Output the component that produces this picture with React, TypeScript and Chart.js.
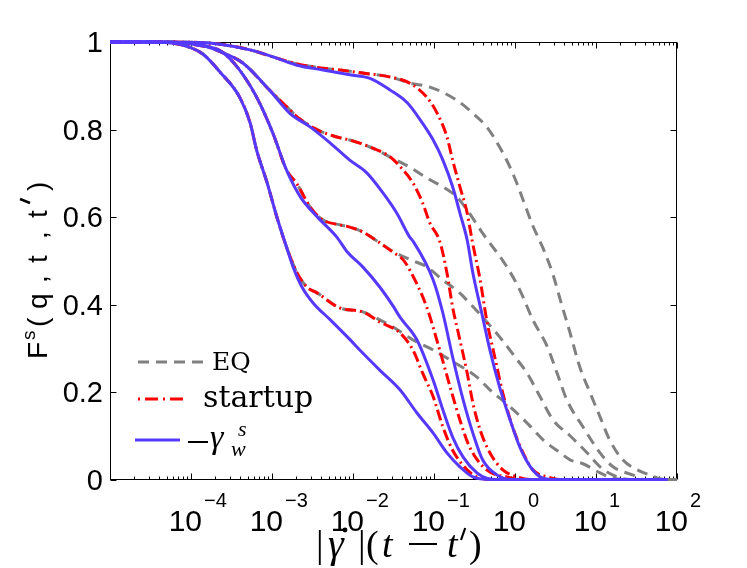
import React, { useEffect, useRef } from 'react';
import { Chart, registerables } from 'chart.js';

Chart.register(...registerables);

// Each curve is a list of [log10(|γ̇|(t−t′)), F^s] pairs
const blue1 = [
  [-5, 1], [-4.5, 1], [-4.26, 0.998], [-4.05, 0.99], [-3.85, 0.972], [-3.64, 0.931], [-3.4, 0.874],
  [-3.27, 0.815], [-3.19, 0.753], [-3.06, 0.678], [-2.94, 0.6], [-2.82, 0.531], [-2.74, 0.486],
  [-2.63, 0.44], [-2.49, 0.403], [-2.28, 0.365], [-2.07, 0.326], [-1.88, 0.289], [-1.67, 0.25],
  [-1.42, 0.205], [-1.21, 0.152], [-1.01, 0.106], [-0.84, 0.061], [-0.68, 0.029], [-0.52, 0.006],
  [-0.3, 0], [1.88, 0],
];
const blue2 = [
  [-5, 1], [-4.5, 1], [-4.1, 0.998], [-3.93, 0.993], [-3.64, 0.98], [-3.43, 0.943], [-3.19, 0.874],
  [-2.99, 0.792], [-2.82, 0.707], [-2.65, 0.646], [-2.44, 0.6], [-2.2, 0.554], [-2.07, 0.52],
  [-1.88, 0.486], [-1.67, 0.44], [-1.5, 0.395], [-1.42, 0.371], [-1.21, 0.319], [-1.01, 0.227],
  [-0.89, 0.159], [-0.77, 0.097], [-0.64, 0.051], [-0.47, 0.015], [-0.35, 0.003], [-0.2, 0], [1.88, 0],
];
const blue3 = [
  [-5, 1], [-4.5, 1], [-4, 0.997], [-3.85, 0.992], [-3.64, 0.978], [-3.36, 0.952], [-3.03, 0.89],
  [-2.78, 0.837], [-2.53, 0.806], [-2.28, 0.769], [-2.04, 0.73], [-1.83, 0.701], [-1.63, 0.655],
  [-1.46, 0.609], [-1.3, 0.554], [-1.26, 0.545], [-1.01, 0.456], [-0.89, 0.38], [-0.77, 0.28],
  [-0.64, 0.182], [-0.52, 0.106], [-0.4, 0.045], [-0.22, 0.01], [-0.05, 0], [1.88, 0],
];
const blue4 = [
  [-5, 1], [-4.5, 1], [-3.9, 0.999], [-3.64, 0.995], [-3.27, 0.982], [-2.94, 0.963], [-2.69, 0.947],
  [-2.37, 0.936], [-2.04, 0.925], [-1.79, 0.917], [-1.54, 0.89], [-1.33, 0.861], [-1.17, 0.822],
  [-1.01, 0.776], [-0.89, 0.73], [-0.77, 0.669], [-0.68, 0.609], [-0.59, 0.547], [-0.52, 0.472],
  [-0.41, 0.38], [-0.31, 0.296], [-0.19, 0.211], [-0.06, 0.136], [0.06, 0.074], [0.19, 0.029],
  [0.31, 0.006], [0.45, 0], [1.88, 0],
];

const startup1 = [
  [-5, 1], [-4.5, 1], [-4.26, 0.998], [-4.05, 0.99], [-3.85, 0.972], [-3.64, 0.931], [-3.4, 0.874],
  [-3.27, 0.815], [-3.19, 0.753], [-3.06, 0.678], [-2.94, 0.6], [-2.82, 0.531], [-2.69, 0.472],
  [-2.57, 0.44], [-2.44, 0.426], [-2.16, 0.392], [-1.88, 0.383], [-1.67, 0.36], [-1.42, 0.335],
  [-1.26, 0.296], [-1.14, 0.243], [-1.01, 0.189], [-0.89, 0.12], [-0.77, 0.067], [-0.59, 0.022],
  [-0.47, 0.006], [-0.3, 0], [1, 0],
];
const startup2 = [
  [-5, 1], [-4.5, 1], [-4.1, 0.998], [-3.93, 0.993], [-3.64, 0.98], [-3.43, 0.943], [-3.19, 0.874],
  [-2.99, 0.792], [-2.82, 0.707], [-2.69, 0.675], [-2.53, 0.623], [-2.37, 0.593], [-2.16, 0.582],
  [-2.04, 0.577], [-1.88, 0.566], [-1.67, 0.541], [-1.51, 0.52], [-1.38, 0.502], [-1.3, 0.479],
  [-1.09, 0.394], [-0.93, 0.296], [-0.8, 0.211], [-0.68, 0.136], [-0.56, 0.074], [-0.35, 0.022],
  [-0.1, 0.006], [0.1, 0], [1, 0],
];
const startup3 = [
  [-5, 1], [-4.5, 1], [-4, 0.997], [-3.85, 0.992], [-3.64, 0.978], [-3.36, 0.952], [-3.03, 0.89],
  [-2.78, 0.845], [-2.69, 0.829], [-2.44, 0.799], [-2.2, 0.783], [-2.04, 0.776], [-1.79, 0.76],
  [-1.54, 0.737], [-1.38, 0.707], [-1.26, 0.678], [-1.14, 0.632], [-1.05, 0.586], [-0.93, 0.545],
  [-0.84, 0.472], [-0.77, 0.394], [-0.68, 0.319], [-0.59, 0.243], [-0.52, 0.175], [-0.43, 0.113],
  [-0.31, 0.061], [-0.15, 0.022], [0.03, 0.006], [0.2, 0], [1, 0],
];
const startup4 = [
  [-5, 1], [-4.5, 1], [-3.9, 0.999], [-3.64, 0.995], [-3.27, 0.982], [-2.94, 0.963], [-2.69, 0.95],
  [-2.37, 0.94], [-2.16, 0.936], [-1.88, 0.929], [-1.54, 0.92], [-1.3, 0.906], [-1.09, 0.874],
  [-0.96, 0.837], [-0.84, 0.783], [-0.77, 0.73], [-0.68, 0.669], [-0.59, 0.609], [-0.53, 0.547],
  [-0.43, 0.456], [-0.35, 0.365], [-0.25, 0.28], [-0.15, 0.197], [-0.03, 0.12], [0.1, 0.061],
  [0.22, 0.022], [0.4, 0.006], [0.55, 0], [1.2, 0],
];

const eq1 = [
  [-5, 1], [-4.5, 1], [-4.26, 0.998], [-4.05, 0.99], [-3.85, 0.972], [-3.64, 0.931], [-3.4, 0.874],
  [-3.27, 0.815], [-3.19, 0.753], [-3.06, 0.678], [-2.94, 0.6], [-2.82, 0.531], [-2.69, 0.472],
  [-2.57, 0.44], [-2.44, 0.426], [-2.16, 0.392], [-1.88, 0.383], [-1.67, 0.365], [-1.51, 0.349],
  [-1.26, 0.319], [-1.01, 0.296], [-0.8, 0.273], [-0.47, 0.234], [-0.31, 0.205], [-0.06, 0.166],
  [0.15, 0.129], [0.35, 0.09], [0.56, 0.061], [0.68, 0.045], [0.84, 0.036], [1.05, 0.015],
  [1.21, 0.003], [1.42, 0], [2, 0],
];
const eq2 = [
  [-5, 1], [-4.5, 1], [-4.1, 0.998], [-3.93, 0.993], [-3.64, 0.98], [-3.43, 0.943], [-3.19, 0.874],
  [-2.99, 0.792], [-2.82, 0.707], [-2.69, 0.675], [-2.53, 0.623], [-2.37, 0.593], [-2.16, 0.582],
  [-2.04, 0.577], [-1.88, 0.566], [-1.67, 0.541], [-1.51, 0.522], [-1.3, 0.503], [-1.09, 0.486],
  [-0.89, 0.456], [-0.68, 0.426], [-0.56, 0.403], [-0.4, 0.371], [-0.19, 0.326], [0.03, 0.273],
  [0.15, 0.243], [0.31, 0.189], [0.47, 0.136], [0.68, 0.1], [0.89, 0.061], [1.05, 0.029],
  [1.21, 0.01], [1.42, 0], [2, 0],
];
const eq3 = [
  [-5, 1], [-4.5, 1], [-4, 0.997], [-3.85, 0.992], [-3.64, 0.978], [-3.36, 0.952], [-3.03, 0.89],
  [-2.78, 0.845], [-2.69, 0.829], [-2.44, 0.799], [-2.2, 0.783], [-2.04, 0.776], [-1.79, 0.76],
  [-1.54, 0.737], [-1.3, 0.714], [-1.05, 0.685], [-0.89, 0.669], [-0.72, 0.646], [-0.59, 0.616],
  [-0.4, 0.563], [-0.1, 0.486], [0.06, 0.433], [0.22, 0.365], [0.4, 0.303],
  [0.52, 0.243], [0.64, 0.182], [0.84, 0.12], [1.05, 0.061], [1.21, 0.029], [1.46, 0.01], [1.6, 0], [2, 0],
];
const eq4 = [
  [-5, 1], [-4.5, 1], [-3.9, 0.999], [-3.64, 0.995], [-3.27, 0.982], [-2.94, 0.963], [-2.69, 0.95],
  [-2.37, 0.94], [-2.16, 0.936], [-1.88, 0.929], [-1.54, 0.92], [-1.3, 0.906], [-1.05, 0.897],
  [-0.72, 0.867], [-0.52, 0.837], [-0.35, 0.806], [-0.19, 0.76], [-0.03, 0.701], [0.1, 0.639],
  [0.22, 0.58], [0.35, 0.527], [0.47, 0.468], [0.56, 0.41], [0.68, 0.335], [0.8, 0.257],
  [0.93, 0.197], [1.05, 0.143], [1.17, 0.09], [1.33, 0.045], [1.51, 0.022], [1.67, 0.01], [1.85, 0], [2, 0],
];

const yTicks = [0, 0.2, 0.4, 0.6, 0.8, 1];
const yTickLabels = ['0', '0.2', '0.4', '0.6', '0.8', '1'];
const xDecades = [-5, -4, -3, -2, -1, 0, 1];
const xTickExponents = [-4, -3, -2, -1, 0, 1, 2];

const GRAY = '#808080';
const RED = '#ff0000';
const BLUE = '#5539ff';
const EQ_DASH = [11, 7];
const STARTUP_DASH = [11, 4, 2, 4];

const SANS = '"Liberation Sans", Arial, sans-serif';
const SERIF = '"Liberation Serif", "Times New Roman", serif';
const DSERIF = '"DejaVu Serif", serif';

const toPoints = (pairs: number[][]) => pairs.map(([lx, y]) => ({ x: Math.pow(10, lx), y }));

const line = (pairs: number[][], color: string, dash: number[], order: number) => ({
  data: toPoints(pairs),
  borderColor: color,
  borderWidth: 3,
  borderDash: dash,
  pointRadius: 0,
  cubicInterpolationMode: 'monotone' as const,
  fill: false,
  clip: false as const,
  order,
});

// small slanted stroke used for primes
const prime = (ctx: CanvasRenderingContext2D, x: number, y: number, len: number) => {
  ctx.save();
  ctx.lineWidth = 2.2;
  ctx.strokeStyle = '#000';
  ctx.setLineDash([]);
  ctx.beginPath();
  ctx.moveTo(x + len * 0.35, y);
  ctx.lineTo(x, y + len);
  ctx.stroke();
  ctx.restore();
};

const frame = {
  id: 'frame',
  beforeDatasetsDraw(chart: Chart) {
    const { ctx, chartArea: a } = chart;
    const xs = chart.scales.x;
    const ys = chart.scales.y;
    ctx.save();
    ctx.strokeStyle = '#000';
    ctx.lineWidth = 1;
    const L = Math.round(a.left) + 0.5;
    const R = Math.round(a.right) - 0.5;
    const T = Math.round(a.top) + 0.5;
    const B = Math.round(a.bottom) - 0.5;
    ctx.strokeRect(L, T, R - L, B - T);
    ctx.beginPath();
    const xTick = (v: number, len: number) => {
      const p = Math.round(xs.getPixelForValue(v)) + 0.5;
      ctx.moveTo(p, B);
      ctx.lineTo(p, B - len);
      ctx.moveTo(p, T);
      ctx.lineTo(p, T + len);
    };
    xDecades.forEach((e) => {
      for (let m = 1; m <= 9; m++) xTick(m * Math.pow(10, e), m === 1 ? 6 : 3);
    });
    xTick(100, 6);
    yTicks.forEach((v) => {
      const p = Math.round(ys.getPixelForValue(v)) + 0.5;
      ctx.moveTo(L, p);
      ctx.lineTo(L + 6, p);
      ctx.moveTo(R, p);
      ctx.lineTo(R - 6, p);
    });
    ctx.stroke();
    ctx.restore();
  },
  afterDraw(chart: Chart) {
    const { ctx } = chart;
    const xs = chart.scales.x;
    const ys = chart.scales.y;
    ctx.save();
    ctx.fillStyle = '#000';
    ctx.textBaseline = 'alphabetic';

    // y tick labels
    ctx.font = `29px ${SANS}`;
    ctx.textAlign = 'right';
    yTicks.forEach((v, i) => {
      ctx.fillText(yTickLabels[i], 103, ys.getPixelForValue(v) + 10);
    });

    // x tick labels 10^n
    xTickExponents.forEach((e) => {
      const p = xs.getPixelForValue(Math.pow(10, e));
      ctx.font = `30px ${SANS}`;
      ctx.textAlign = 'right';
      ctx.fillText('10', p + 11, 531);
      ctx.font = `20px ${SANS}`;
      ctx.textAlign = 'left';
      ctx.fillText(e < 0 ? '\u2212' + Math.abs(e) : String(e), p + 13, 507);
    });

    // y axis title F^s(q,t,t′)
    ctx.save();
    ctx.translate(47, 359);
    ctx.rotate(-Math.PI / 2);
    ctx.textAlign = 'left';
    ctx.font = `28px ${SANS}`;
    ctx.fillText('F', 0, 0);
    ctx.font = `19px ${SANS}`;
    ctx.fillText('s', 19, -12);
    ctx.font = `28px ${SANS}`;
    const yParts: [string, number][] = [
      ['(', 32], ['q', 50], [',', 76], ['t', 96], [',', 120], ['t', 141], [')', 168],
    ];
    yParts.forEach(([c, x]) => ctx.fillText(c, x, 0));
    ctx.lineWidth = 2.5;
    ctx.beginPath();
    ctx.moveTo(160, -27);
    ctx.lineTo(156, -17);
    ctx.stroke();
    ctx.restore();

    // x axis title |γ̇|(t − t′)
    ctx.textAlign = 'left';
    const base = 557;
    ctx.font = `38px ${SERIF}`;
    ctx.fillText('|', 316, base);
    ctx.font = `italic 40px ${SERIF}`;
    ctx.fillText('\u03b3', 328, base);
    ctx.beginPath();
    ctx.arc(345, 530, 2.4, 0, Math.PI * 2);
    ctx.fill();
    ctx.font = `38px ${SERIF}`;
    ctx.fillText('|', 358, base);
    ctx.fillText('(', 366, base);
    ctx.font = `italic 38px ${SERIF}`;
    ctx.fillText('t', 382, base);
    ctx.fillRect(409, 543, 28, 2);
    ctx.fillText('t', 447, base);
    prime(ctx, 461, 528, 12);
    ctx.font = `38px ${SERIF}`;
    ctx.fillText(')', 469, base);

    // legend
    ctx.lineWidth = 3;
    ctx.strokeStyle = GRAY;
    ctx.setLineDash(EQ_DASH);
    ctx.beginPath();
    ctx.moveTo(138, 362);
    ctx.lineTo(203, 362);
    ctx.stroke();
    ctx.strokeStyle = RED;
    ctx.setLineDash([2, 5, 13, 5]);
    ctx.beginPath();
    ctx.moveTo(138, 399);
    ctx.lineTo(184, 399);
    ctx.stroke();
    ctx.strokeStyle = BLUE;
    ctx.setLineDash([]);
    ctx.beginPath();
    ctx.moveTo(135, 440);
    ctx.lineTo(180, 440);
    ctx.stroke();

    ctx.font = `25px ${DSERIF}`;
    ctx.fillText('EQ', 212, 370);
    ctx.font = `30px ${DSERIF}`;
    ctx.fillText('startup', 203, 407);
    ctx.fillRect(188, 441, 20, 2);
    ctx.font = `italic 34px ${SERIF}`;
    ctx.fillText('\u03b3', 210, 448);
    ctx.font = `italic 22px ${SERIF}`;
    ctx.fillText('s', 238, 436);
    ctx.fillText('w', 231, 456);
    ctx.restore();
  },
};

export default function App() {
  const canvasRef = useRef<HTMLCanvasElement | null>(null);

  useEffect(() => {
    if (!canvasRef.current) return;
    const chart = new Chart(canvasRef.current, {
      type: 'line',
      data: {
        datasets: [
          line(blue1, BLUE, [], 1),
          line(blue2, BLUE, [], 1),
          line(blue3, BLUE, [], 1),
          line(blue4, BLUE, [], 1),
          line(startup1, RED, STARTUP_DASH, 2),
          line(startup2, RED, STARTUP_DASH, 2),
          line(startup3, RED, STARTUP_DASH, 2),
          line(startup4, RED, STARTUP_DASH, 2),
          line(eq1, GRAY, EQ_DASH, 3),
          line(eq2, GRAY, EQ_DASH, 3),
          line(eq3, GRAY, EQ_DASH, 3),
          line(eq4, GRAY, EQ_DASH, 3),
        ],
      },
      options: {
        animation: false,
        responsive: true,
        maintainAspectRatio: false,
        layout: { padding: { left: 110, right: 70, top: 42, bottom: 88.5 } },
        plugins: { legend: { display: false }, tooltip: { enabled: false } },
        scales: {
          x: { type: 'logarithmic', min: 1e-5, max: 100, display: false },
          y: { type: 'linear', min: 0, max: 1, display: false },
        },
      },
      plugins: [frame],
    });
    return () => chart.destroy();
  }, []);

  return (
    <div style={{ position: 'fixed', left: 0, top: 0, width: 747, height: 568, background: '#fff' }}>
      <canvas ref={canvasRef} />
    </div>
  );
}
